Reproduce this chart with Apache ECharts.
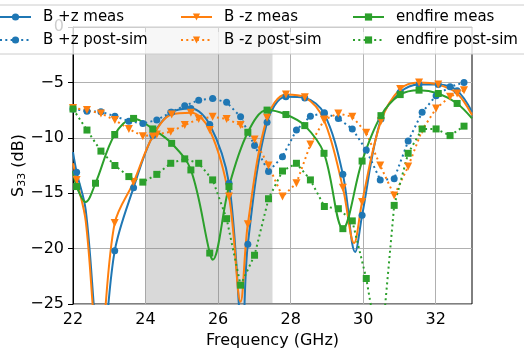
<!DOCTYPE html>
<html>
<head>
<meta charset="utf-8">
<script src="https://cdn.jsdelivr.net/npm/echarts@6/dist/echarts.min.js"></script>
<style>
html, body { margin: 0; padding: 0; background: #fff; }
#main { width: 524px; height: 353px; }
</style>
</head>
<body>
<div id="main"></div>
<script>
// marker positions of the measured curves (GHz)
var measX = [22.10, 22.62, 23.15, 23.67, 24.20, 24.72, 25.25, 25.77, 26.30, 26.82, 27.35,
             27.87, 28.39, 28.92, 29.44, 29.97, 30.49, 31.02, 31.54, 32.07, 32.59];
var bpzMeas = [-13.1, -27, -20.2, -14.5, -9.8, -7.7, -7.35, -8.8, -14.1, -19.6, -8.6,
               -6.3, -6.4, -7.8, -13.3, -17.0, -8.3, -5.9, -5.2, -5.2, -5.75];
var bmzMeas = [-13.8, -28, -17.7, -14.0, -9.85, -7.9, -7.75, -9.3, -15.3, -17.8, -8.2,
               -6.1, -6.35, -8.4, -14.5, -15.8, -8.5, -5.6, -5.0, -5.2, -6.0];
var endMeas = [-14.4, -14.1, -9.7, -8.25, -9.2, -10.5, -12.9, -20.4, -14.4, -9.5, -7.5,
               -7.9, -8.9, -11.4, -18.2, -12.1, -8.0, -6.1, -5.7, -6.0, -6.9];
// points on the measured curves that carry no marker
var bpzMeasExtra = [[22.0, -11.3], [22.35, -16.5], [22.75, -31],
                    [26.67, -27.5], [29.78, -20.3], [33.0, -7.65]];
var bmzMeasExtra = [[22.0, -12.3], [22.35, -17.5], [22.72, -29],
                    [26.62, -24.8], [29.75, -19.5], [33.0, -7.95]];
var endMeasExtra = [[22.0, -13.0], [22.35, -15.8], [25.85, -21.0], [33.0, -8.25]];

// post-simulation points
var simX = [22.000, 22.385, 22.770, 23.155, 23.540, 23.925, 24.310, 24.695, 25.080, 25.465,
            25.850, 26.235, 26.620, 27.005, 27.390, 27.775, 28.160, 28.545, 28.930, 29.315,
            29.700, 30.085, 30.470, 30.855, 31.240, 31.625, 32.010, 32.395, 32.780];
var bpzSim = [-7.4, -7.6, -7.65, -8.05, -8.5, -8.7, -8.4, -7.7, -7.1, -6.6,
              -6.45, -6.8, -8.1, -10.7, -13.05, -11.7, -9.3, -8.05, -7.75, -8.25,
              -9.2, -11.1, -13.8, -13.7, -10.3, -7.7, -6.2, -5.4, -5.0];
var bmzSim = [-7.3, -7.5, -7.8, -8.4, -9.2, -9.85, -9.7, -9.45, -8.85, -8.3,
              -8.1, -8.3, -8.85, -10.15, -12.5, -15.3, -14.1, -10.6, -8.35, -7.8,
              -8.1, -9.55, -12.5, -15.2, -12.6, -9.3, -7.35, -6.3, -5.7];
var endSim = [-7.4, -9.3, -11.2, -12.5, -13.5, -14.0, -13.3, -12.3, -11.9, -12.3,
              -13.8, -17.3, -23.3, -20.6, -15.5, -13.0, -12.3, -13.8, -16.2, -16.4,
              -17.5, -22.7, -30, -16.1, -11.4, -9.2, -9.2, -9.8, -8.95];

var xTicks = [22, 24, 26, 28, 30, 32];
var band = [24, 27.5];

var C0 = '#1f77b4', C1 = '#ff7f0e', C2 = '#2ca02c';
var FONT = 'DejaVu Sans';

function measData(ys, extra) {
    var pts = measX.map(function (x, i) { return { value: [x, ys[i]] }; });
    extra.forEach(function (p) { pts.push({ value: p, symbol: 'none' }); });
    pts.sort(function (a, b) { return a.value[0] - b.value[0]; });
    return pts;
}
function simData(ys) {
    return simX.map(function (x, i) { return [x, ys[i]]; });
}

function measSeries(name, ys, extra, color, symbol, size, rot) {
    return {
        name: name, type: 'line', data: measData(ys, extra),
        smooth: 0.35,
        symbol: symbol, symbolSize: size, symbolRotate: rot,
        lineStyle: { width: 2, color: color },
        itemStyle: { color: color },
        emphasis: { disabled: true }
    };
}
function simSeries(name, ys, color, symbol, size, rot) {
    return {
        name: name, type: 'line', data: simData(ys),
        symbol: symbol, symbolSize: size, symbolRotate: rot,
        lineStyle: { width: 2, color: color, type: [2, 3.3] },
        itemStyle: { color: color },
        emphasis: { disabled: true }
    };
}

function legendCol(left, names) {
    return {
        data: names, orient: 'vertical', left: left, top: 8.5, padding: 0,
        itemWidth: 31, itemHeight: 9, itemGap: 6, z: 60,
        selectedMode: false,
        textStyle: { fontSize: 15, color: '#000', fontFamily: FONT, lineHeight: 17, padding: [0, 0, 0, 7] }
    };
}

var myChart = echarts.init(document.getElementById('main'));

var option = {
    animation: false,
    textStyle: { fontFamily: FONT },
    grid: {
        left: 73, right: 52, top: 27, bottom: 49, containLabel: false, outerBoundsMode: 'none',
        show: true, borderColor: '#000', borderWidth: 1
    },
    graphic: [{
        type: 'rect', z: 50,
        shape: { x: -5, y: 5, width: 535, height: 49, r: 3 },
        style: { fill: 'rgba(255,255,255,0.8)', stroke: '#cccccc', lineWidth: 1 }
    }],
    legend: [
        legendCol(-1, ['B +z meas', 'B +z post-sim']),
        legendCol(180, ['B -z meas', 'B -z post-sim']),
        legendCol(352, ['endfire meas', 'endfire post-sim'])
    ],
    xAxis: {
        type: 'value', min: 22, max: 33, interval: 2,
        name: 'Frequency (GHz)', nameLocation: 'middle', nameGap: 29, nameMoveOverlap: false,
        nameTextStyle: { fontSize: 16, color: '#000', fontFamily: FONT },
        axisLine: { lineStyle: { color: '#000', width: 1 } },
        axisTick: { length: 5, customValues: xTicks, lineStyle: { color: '#000' } },
        axisLabel: { customValues: xTicks, margin: 8, fontSize: 16, color: '#000', fontFamily: FONT },
        splitLine: { show: true, lineStyle: { color: '#b0b0b0', width: 1 } }
    },
    yAxis: {
        type: 'value', min: -25, max: 0, interval: 5,
        name: '{s|S}{sub|33}{s| (dB)}', nameLocation: 'middle', nameGap: 45, nameMoveOverlap: false,
        nameTextStyle: {
            color: '#000',
            rich: {
                s: { fontSize: 16, fontFamily: FONT, color: '#000' },
                sub: { fontSize: 11, fontFamily: FONT, color: '#000', padding: [7, 0, 0, 0] }
            }
        },
        axisLine: { show: true, lineStyle: { color: '#000', width: 1 } },
        axisTick: { show: true, length: 5, lineStyle: { color: '#000' } },
        axisLabel: {
            margin: 9, fontSize: 16, color: '#000', fontFamily: FONT,
            formatter: function (v) { return v < 0 ? '\u2212' + Math.abs(v) : String(v); }
        },
        splitLine: { show: true, lineStyle: { color: '#b0b0b0', width: 1 } }
    },
    series: [
        {
            type: 'line', data: [], silent: true,
            markArea: {
                silent: true,
                itemStyle: { color: 'rgba(128,128,128,0.3)' },
                data: [[{ xAxis: band[0] }, { xAxis: band[1] }]]
            }
        },
        measSeries('B +z meas', bpzMeas, bpzMeasExtra, C0, 'circle', 7, 0),
        simSeries('B +z post-sim', bpzSim, C0, 'circle', 7, 0),
        measSeries('B -z meas', bmzMeas, bmzMeasExtra, C1, 'triangle', 8, 180),
        simSeries('B -z post-sim', bmzSim, C1, 'triangle', 8, 180),
        measSeries('endfire meas', endMeas, endMeasExtra, C2, 'rect', 7, 0),
        simSeries('endfire post-sim', endSim, C2, 'rect', 7, 0)
    ]
};

myChart.setOption(option);
</script>
</body>
</html>
